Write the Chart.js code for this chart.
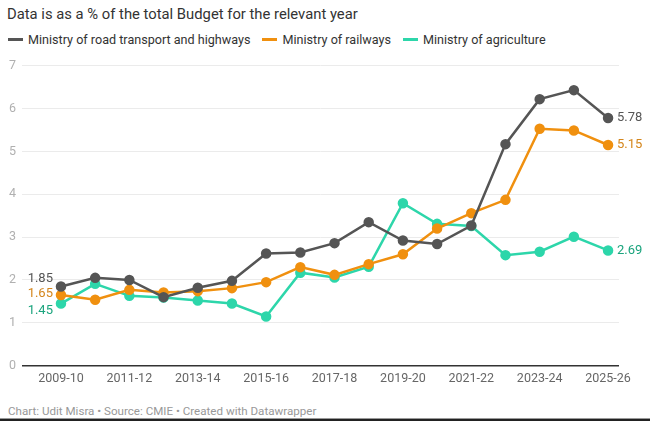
<!DOCTYPE html>
<html>
<head>
<meta charset="utf-8">
<script src="https://cdn.jsdelivr.net/npm/chart.js@4"></script>
<style>
  body { margin: 0; background: #fff; font-family: Roboto, sans-serif; }
  #wrap { position: relative; width: 650px; height: 423px; overflow: hidden; }
  #title { position: absolute; left: 7px; top: 5px; font-size: 14.8px; color: #333; }
  #legend { position: absolute; left: 8px; top: 32px; font-size: 12.6px; color: #333; white-space: nowrap; }
  #legend span.item { margin-right: 12px; }
  #legend i { display: inline-block; width: 15px; height: 3px; vertical-align: middle; margin-right: 5px; position: relative; top: -1px; }
  #box { position: absolute; left: 0; top: 50px; width: 650px; height: 345px; }
  #foot { position: absolute; left: 8px; top: 404px; font-size: 11.6px; color: #999; }
  #rule { position: absolute; left: 0; top: 418px; width: 650px; height: 1px; background: #999; }
  #rule2 { position: absolute; left: 0; top: 419px; width: 650px; height: 2px; background: #222; }
</style>
</head>
<body>
<div id="wrap">
  <div id="title">Data is as a % of the total Budget for the relevant year</div>
  <div id="legend"></div>
  <div id="box"><canvas id="budgetChart"></canvas></div>
  <div id="foot">Chart: Udit Misra • Source: CMIE • Created with Datawrapper</div>
  <div id="rule"></div><div id="rule2"></div>
</div>
<script>
var years = ['2009-10', '2010-11', '2011-12', '2012-13', '2013-14', '2014-15', '2015-16', '2016-17',
  '2017-18', '2018-19', '2019-20', '2020-21', '2021-22', '2022-23', '2023-24', '2024-25', '2025-26'];
var roadTransport = [1.85, 2.05, 2.0, 1.6, 1.82, 1.98, 2.62, 2.64, 2.86, 3.35, 2.92, 2.84, 3.27, 5.17, 6.22, 6.43, 5.78];
var railways = [1.65, 1.54, 1.77, 1.71, 1.74, 1.81, 1.95, 2.3, 2.12, 2.37, 2.6, 3.2, 3.56, 3.87, 5.53, 5.49, 5.15];
var agriculture = [1.45, 1.91, 1.63, 1.59, 1.52, 1.45, 1.15, 2.17, 2.06, 2.31, 3.79, 3.31, 3.26, 2.58, 2.66, 3.01, 2.69];
var seriesNames = ['Ministry of road transport and highways', 'Ministry of railways', 'Ministry of agriculture'];
var lineColors = ['#555555', '#f0900f', '#2dd6aa'];
var textColors = ['#555555', '#d4861c', '#1aa47d'];
var yTicks = [0, 1, 2, 3, 4, 5, 6, 7];
var xTicks = [0, 2, 4, 6, 8, 10, 12, 14, 16];

var legend = document.getElementById('legend');
seriesNames.forEach(function (n, i) {
  var s = document.createElement('span');
  s.className = 'item';
  s.innerHTML = '<i style="background:' + lineColors[i] + '"></i>' + n;
  legend.appendChild(s);
});

function points(values) {
  return values.map(function (v, i) { return { x: i, y: v }; });
}

var endLabels = {
  id: 'endLabels',
  afterDatasetsDraw: function (chart) {
    var ctx = chart.ctx;
    var leftShift = [-8, -1, 7];
    ctx.save();
    ctx.font = '13px Roboto, sans-serif';
    ctx.textBaseline = 'middle';
    chart.data.datasets.forEach(function (ds, i) {
      var meta = chart.getDatasetMeta(i);
      var first = meta.data[0];
      var last = meta.data[meta.data.length - 1];
      ctx.fillStyle = textColors[i];
      ctx.textAlign = 'right';
      ctx.fillText(ds.data[0].y.toFixed(2), first.x - 8, first.y + leftShift[i]);
      ctx.textAlign = 'left';
      ctx.fillText(ds.data[ds.data.length - 1].y.toFixed(2), last.x + 9, last.y);
    });
    ctx.restore();
  }
};

var ctx = document.getElementById('budgetChart');
var budgetChart = new Chart(ctx, {
  type: 'line',
  data: {
    datasets: [roadTransport, railways, agriculture].map(function (vals, i) {
      return {
        label: seriesNames[i],
        data: points(vals),
        borderColor: lineColors[i],
        backgroundColor: lineColors[i],
        borderWidth: 2.5,
        pointRadius: 4,
        pointHoverRadius: 4,
        tension: 0
      };
    })
  },
  options: {
    responsive: true,
    maintainAspectRatio: false,
    animation: false,
    layout: { padding: { top: 15.7, right: 31, left: 0, bottom: 0 } },
    plugins: {
      legend: { display: false },
      tooltip: { enabled: false }
    },
    scales: {
      x: {
        type: 'linear',
        min: -1.14,
        max: 16.32,
        afterBuildTicks: function (scale) {
          scale.ticks = xTicks.map(function (v) { return { value: v }; });
        },
        afterFit: function (scale) { scale.height = 29.3; },
        grid: { display: false, drawTicks: false },
        border: { display: false },
        ticks: {
          padding: 6,
          color: '#666',
          font: { family: 'Roboto', size: 12.5 },
          maxRotation: 0,
          autoSkip: false,
          callback: function (v) { return years[v]; }
        }
      },
      y: {
        min: 0,
        max: 7,
        afterBuildTicks: function (scale) {
          scale.ticks = yTicks.map(function (v) { return { value: v }; });
        },
        afterFit: function (scale) { scale.width = 22; },
        grid: {
          drawTicks: false,
          color: function (c) { return c.tick.value === 0 ? '#333' : '#ebebeb'; },
          lineWidth: function (c) { return c.tick.value === 0 ? 1.5 : 1; }
        },
        border: { display: false },
        ticks: {
          padding: 6,
          color: '#b0b0b0',
          font: { family: 'Roboto', size: 12.5 }
        }
      }
    }
  },
  plugins: [endLabels]
});
</script>
</body>
</html>
